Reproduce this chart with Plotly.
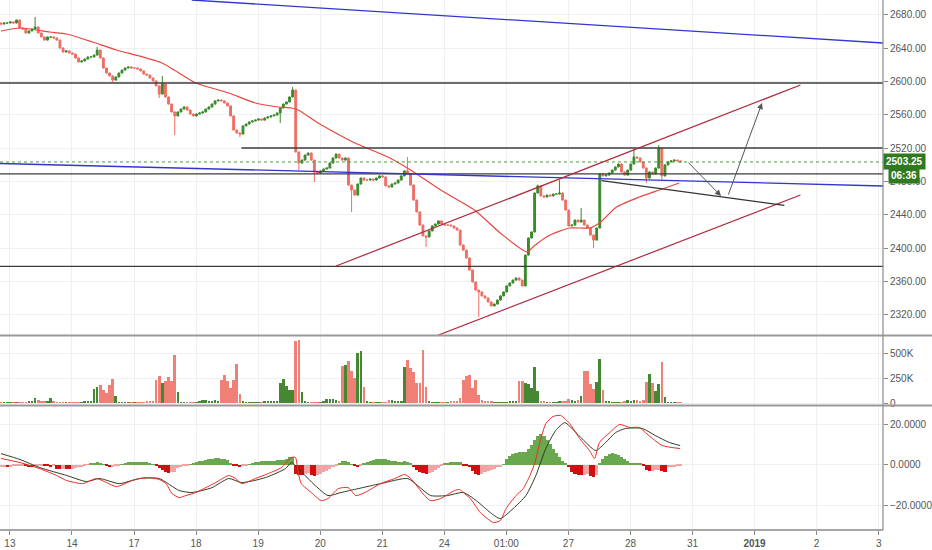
import plotly.graph_objects as go

# ---------------- data ----------------
DAY_LABELS = ["13", "14", "17", "18", "19", "20", "21", "24", "01:00", "27", "28", "31", "<b>2019</b>", "2", "3"]
BARS_PER_DAY = 20
FIRST_BAR_DAY = -0.144
X_MIN, X_MAX = -0.16, 14.07

OPEN_FIRST = 2670.0
CLOSE = [
    2668.75, 2670, 2670, 2671.25, 2670, 2673.5, 2664, 2662.75, 2658, 2660.5,
    2662.75, 2665.25, 2658, 2653.25, 2649.5, 2653.25, 2653.25, 2652, 2649.5, 2640,
    2635.25, 2636.5, 2634, 2632.75, 2628, 2623.25, 2624.5, 2626.75, 2629.25, 2629.25,
    2631.5, 2637.5, 2628, 2616, 2610, 2606.5, 2601.5, 2605.25, 2610, 2613.5,
    2616, 2617.25, 2616, 2616, 2614.75, 2612.5, 2608.75, 2607.5, 2604, 2600.5,
    2594.5, 2584.75, 2596.75, 2581.25, 2572.75, 2563.25, 2558.5, 2563.25, 2566.75, 2569.25,
    2565.5, 2560.75, 2558.5, 2560.75, 2562, 2563.25, 2566.75, 2569.25, 2572.75, 2576.5,
    2577.5, 2576.5, 2574, 2570.5, 2558.5, 2541.5, 2538, 2536.75, 2546.5, 2548.75,
    2551.25, 2552.5, 2553.5, 2554.75, 2553.5, 2556, 2557.25, 2558.5, 2559.5, 2562,
    2568, 2572.75, 2575.25, 2581.25, 2589.5, 2515.25, 2502, 2505.5, 2511.5, 2514,
    2505.5, 2491.25, 2490, 2492.5, 2494.75, 2496, 2502, 2508, 2512.75, 2508,
    2505.5, 2508, 2475.5, 2469.5, 2463.5, 2476.75, 2484, 2481.5, 2481.5, 2482.75,
    2481.5, 2484, 2486.5, 2485.25, 2474.5, 2473.25, 2476.75, 2478, 2481.5, 2486.5,
    2492.5, 2488.75, 2475.5, 2457.5, 2443.25, 2427.5, 2414.5, 2413.25, 2420.5, 2426.5,
    2428.75, 2432.5, 2428.75, 2427.5, 2427.5, 2426.5, 2424, 2421.5, 2403.5, 2397.5,
    2388, 2373.5, 2359.25, 2349.5, 2347.25, 2342.5, 2340, 2335.25, 2330.5, 2332.75,
    2337.5, 2342.5, 2347.25, 2354.5, 2358, 2361.5, 2364, 2361.5, 2354.5, 2391.5,
    2412, 2419.25, 2466, 2474.5, 2462.5, 2461.25, 2463.5, 2462.5, 2464.75, 2464.75,
    2466, 2457.5, 2445.5, 2426.5, 2427.5, 2433.5, 2431.25, 2433.5, 2427.5, 2424,
    2415.5, 2409.5, 2424, 2488.75, 2486.5, 2487.5, 2490, 2493.5, 2497.25, 2500.75,
    2491.25, 2487.5, 2493.5, 2500.75, 2509.25, 2508, 2503.25, 2496, 2484, 2491.25,
    2488.75, 2496, 2520, 2486.5, 2499.75, 2503.25, 2504.5, 2505.5, 2504.5, 2503.25,
]
HIGH_WICK = {11: 2677.25, 31: 2641.25, 52: 2606.5, 94: 2593.25, 131: 2509.25,
             173: 2476.0, 180: 2481.5, 187: 2448.0, 204: 2517.5, 212: 2523.5}
LOW_WICK = {36: 2599.25, 51: 2580.0, 56: 2535.5, 77: 2533.0, 90: 2550.0, 96: 2493.5,
            101: 2479.25, 113: 2443.25, 137: 2401.25, 154: 2317.25, 191: 2400.0,
            208: 2478.0, 213: 2481.5}
WICK_PAD = 0.5

VOLUME_K = [
    5, 5, 5, 5, 5, 6, 8, 8, 10, 12,
    20, 50, 35, 25, 20, 20, 50, 15, 10, 8,
    6, 6, 5, 5, 5, 8, 10, 12, 15, 17,
    143, 157, 183, 133, 100, 183, 243, 67, 10, 8,
    6, 5, 5, 5, 5, 8, 10, 12, 15, 20,
    233, 267, 200, 217, 257, 217, 477, 110, 10, 8,
    6, 5, 8, 10, 20, 27, 33, 15, 20, 33,
    20, 233, 283, 217, 150, 233, 390, 90, 12, 8,
    5, 5, 5, 6, 10, 20, 23, 25, 23, 20,
    200, 240, 167, 133, 133, 617, 633, 110, 20, 10,
    8, 6, 5, 10, 23, 43, 40, 43, 30, 25,
    367, 383, 423, 323, 250, 500, 517, 157, 20, 10,
    8, 5, 5, 5, 5, 33, 33, 25, 20, 15,
    357, 433, 350, 310, 200, 200, 533, 157, 20, 10,
    8, 5, 5, 5, 10, 15, 20, 25, 50, 233,
    267, 277, 150, 233, 83, 33, 20, 15, 12, 10,
    8, 8, 8, 10, 12, 12, 15, 217, 223, 200,
    190, 150, 360, 123, 15, 12, 10, 10, 8, 10,
    15, 20, 25, 43, 30, 25, 30, 67, 317, 323,
    190, 143, 207, 443, 133, 15, 12, 10, 8, 8,
    10, 15, 27, 20, 33, 33, 25, 30, 210, 290,
    200, 117, 190, 407, 60, 8, 7, 6, 6, 5,
]

MA_IDX = [0, 6.1, 15.7, 21.2, 29.5, 37.2, 44.6, 51.9, 55.8, 62.8, 73.4, 82, 89.4, 93.6, 95.8,
          102.2, 110.3, 114.1, 124.7, 132, 141.7, 152.6, 160.9, 169.6, 171.8, 176.9, 183.3,
          189.7, 192.9, 198.4, 205.8, 212.2, 218.6]
MA_VAL = [2660.4, 2664, 2659.2, 2656.8, 2647.2, 2637.6, 2630.4, 2622, 2613.6, 2598, 2586, 2574,
          2569.2, 2568, 2565.6, 2550, 2533.2, 2526, 2509.2, 2493.6, 2469.6, 2445.6, 2418, 2395.2,
          2402.4, 2415.6, 2424, 2424, 2430, 2449.2, 2461.2, 2469.6, 2478]

MACD_IDX = [0, 6.1, 12.5, 17.9, 21.2, 26.3, 30.8, 34, 37.2, 42.3, 46.8, 51, 53.2, 55.1, 57.4,
            59.6, 62.8, 66, 69.2, 73.4, 75.6, 77.6, 82, 86.2, 90.4, 93.6, 94.9, 95.8, 96.8, 100,
            103.2, 105.4, 108.7, 111.9, 114.4, 117.3, 122.4, 126.9, 130.1, 132.1, 136.5, 138.5,
            141.7, 146.2, 147.8, 149, 151.3, 154.5, 158.7, 160.9, 162.8, 166, 168.3, 170.5, 172.1,
            173.7, 175.6, 177.9, 180.4, 183.3, 186.5, 189.7, 191.3, 192.9, 196.2, 199.4, 202.6,
            205.8, 207.7, 210, 213.1, 216.3, 218.9]
MACD_VAL = [3.0, 1.0, -2.0, -5.4, -7.9, -9.4, -6.9, -8.9, -10.9, -7.9, -6.4, -7.4, -9.4, -14.3,
            -16.3, -15.3, -13.8, -11.4, -8.9, -5.4, -6.9, -9.4, -6.9, -4.4, -1.5, 3.5, 3.5, -4.0,
            -9.4, -13.8, -17.8, -16.8, -11.9, -11.4, -15.3, -13.8, -9.4, -6.9, -4.9, -6.9, -15.3,
            -17.8, -16.8, -12.8, -12.3, -13.8, -16.8, -23.7, -28.6, -27.7, -21.7, -15.3, -11.9,
            -5.4, 1.0, 10.9, 20.2, 23.7, 24.2, 20.2, 12.8, 6.9, 3.0, 10.9, 15.8, 19.8, 18.3, 18.3,
            15.8, 12.8, 9.4, 8.4, 7.9]
SIG_IDX = [0, 6.1, 12.5, 21.2, 27.6, 31.7, 38.1, 44.6, 51, 57.4, 61.5, 68, 73.4, 77.6, 85.3,
           91.7, 93.6, 95.8, 101.3, 105.4, 109.6, 115.1, 122.4, 131.1, 134.3, 138.5, 143.9, 149,
           153.2, 157.7, 160.9, 165.1, 169.2, 172.4, 175.6, 178.8, 181.7, 185.3, 188.5, 191.7,
           194.9, 198.1, 201.3, 206.7, 210.9, 215.4, 218.9]
SIG_VAL = [5.4, 2.5, -1.5, -5.4, -8.4, -6.9, -9.4, -6.9, -6.9, -12.8, -13.8, -11.4, -6.9, -8.9,
           -6.4, -2.0, 1.0, -2.0, -10.4, -15.3, -13.8, -11.9, -9.4, -6.9, -10.4, -15.3, -15.3,
           -13.8, -17.8, -23.7, -26.7, -21.7, -15.3, -5.4, 7.9, 16.8, 20.7, 15.8, 10.9, 6.9, 10.9,
           15.8, 17.8, 17.8, 14.3, 10.9, 9.4]
HIST = [
    -1.0, -1.0, -1.1, -1.0, -0.9, -0.8, -0.6, -0.5, -0.8, -1.0,
    -1.2, -0.8, -0.5, -0.3, -0.5, -0.8, -1.0, -0.8, -2.0, -2.2,
    -2.0, -2.2, -2.4, -2.0, -1.5, -1.3, -1.0, -0.6, -0.2, 0.3,
    0.8, 1.2, 0.5, 0.1, -0.8, -1.0, -1.0, -0.8, -0.3, 0.2,
    0.8, 1.2, 1.4, 1.5, 1.5, 1.5, 1.4, 1.2, 0.8, 0.2,
    -0.5, -1.5, -2.5, -3.8, -4.0, -3.9, -3.5, -1.5, -1.2, -0.8,
    -0.4, 0.2, 0.8, 1.2, 1.6, 2.0, 2.3, 2.6, 2.8, 3.0,
    3.0, 2.8, 2.6, 2.2, 1.0, -0.3, -0.8, -1.0, -0.8, -0.4,
    0.2, 0.8, 1.2, 1.5, 1.7, 1.8, 1.9, 2.0, 2.0, 2.1,
    2.2, 2.4, 2.8, 3.5, 3.8, -4.5, -5.0, -5.2, -4.5, -4.4,
    -5.0, -5.5, -5.2, -4.5, -3.8, -3.0, -2.2, -1.2, -0.3, 1.0,
    1.8, 2.0, 1.5, 0.2, -0.8, -1.0, -0.5, 0.5, 1.5, 2.0,
    2.3, 2.5, 2.5, 2.6, 2.5, 2.3, 1.8, 1.6, 1.5, 1.5,
    1.6, 1.4, 0.3, -1.0, -2.5, -3.5, -4.2, -4.5, -4.3, -3.5,
    -2.8, -1.8, -0.8, 0.4, 1.0, 1.3, 1.5, 1.5, 1.2, -0.5,
    -0.8, -1.0, -3.0, -4.5, -5.0, -4.8, -3.8, -3.0, -2.5, -2.0,
    -1.4, -1.0, 0.2, 2.5, 4.0, 5.0, 5.6, 6.0, 6.1, 6.3,
    7.5, 9.5, 12.0, 14.0, 15.3, 14.0, 12.0, 10.0, 7.5, 5.5,
    3.5, 2.0, 0.5, -1.0, -3.5, -4.5, -5.0, -5.2, -5.0, -4.8,
    -5.5, -6.0, -5.0, 0.5, 2.5, 4.0, 5.0, 5.5, 5.3, 4.5,
    3.8, 2.8, 1.8, 1.0, 0.8, 0.8, 0.5, -0.5, -2.5, -3.0,
    -3.0, -2.8, -2.5, -3.2, -3.5, -1.0, -1.0, -1.0, -0.9, -0.8,
]

LAST_PRICE = 2503.25
COUNTDOWN = "06:36"
COUNTDOWN_Y = 2486.5
LEVELS_FULL = [2598.0, 2489.0, 2378.0]
LEVEL_PARTIAL = {"start_day": 3.73, "price": 2520.0}
BLUE_LINES = [((2.93, 2697.6), (14.07, 2646.0)), ((-0.16, 2501.4), (14.07, 2474.4))]
CHANNEL_LINES = [((5.256, 2378.4), (12.74, 2595.6)), ((6.907, 2295.6), (12.74, 2463.6))]
TREND_LINE = ((9.535, 2480.8), (12.48, 2451.2))
ARROWS = [((10.91, 2504.4), (11.46, 2462.4)), ((11.57, 2462.4), (12.12, 2574.0))]

PRICE_TICKS = [2320, 2360, 2400, 2440, 2480, 2520, 2560, 2600, 2640, 2680]
VOL_TICKS = [0, 250, 500]
VOL_TICKTEXT = ["0", "250K", "500K"]
MACD_TICKS = [-20, 0, 20]

# ---------------- styles ----------------
UP, DOWN = "#3a8a2a", "#ef6d64"
VOL_UP, VOL_DOWN = "#468832", "#f07f76"
GRID = "#eef0f3"
FONT = "Liberation Sans, Arial, sans-serif"
TICKFONT = dict(family=FONT, size=10, color="#555555")

n = len(CLOSE)
bar_day = [FIRST_BAR_DAY + i / BARS_PER_DAY for i in range(n)]
opens = [OPEN_FIRST] + CLOSE[:-1]
highs = [HIGH_WICK.get(i, max(o, c) + WICK_PAD) for i, (o, c) in enumerate(zip(opens, CLOSE))]
lows = [LOW_WICK.get(i, min(o, c) - WICK_PAD) for i, (o, c) in enumerate(zip(opens, CLOSE))]
is_up = [c >= o for o, c in zip(opens, CLOSE)]


def idx_to_day(idx_list):
    return [FIRST_BAR_DAY + v / BARS_PER_DAY for v in idx_list]


fig = go.Figure()
fig.add_trace(go.Candlestick(
    x=bar_day, open=opens, high=highs, low=lows, close=CLOSE,
    increasing=dict(line=dict(color=UP, width=1), fillcolor=UP),
    decreasing=dict(line=dict(color=DOWN, width=1), fillcolor=DOWN),
    whiskerwidth=0, hoverinfo="skip", showlegend=False, xaxis="x", yaxis="y"))
fig.add_trace(go.Scatter(x=idx_to_day(MA_IDX), y=MA_VAL, mode="lines",
                         line=dict(color="#e8453c", width=1.2, shape="spline", smoothing=0.6),
                         hoverinfo="skip", showlegend=False, xaxis="x", yaxis="y"))

fig.add_trace(go.Bar(x=bar_day, y=VOLUME_K, width=0.042,
                     marker=dict(color=[VOL_UP if u else VOL_DOWN for u in is_up], line=dict(width=0)),
                     hoverinfo="skip", showlegend=False, xaxis="x2", yaxis="y2"))

hist_colors = []
for i, h in enumerate(HIST):
    if h >= 0:
        hist_colors.append("#6aa84f")
    elif i > 0 and h < HIST[i - 1]:
        hist_colors.append("#d01010")
    else:
        hist_colors.append("#f2a4a4")
fig.add_trace(go.Bar(x=bar_day, y=HIST, width=0.05,
                     marker=dict(color=hist_colors, line=dict(width=0)),
                     hoverinfo="skip", showlegend=False, xaxis="x3", yaxis="y3"))
fig.add_trace(go.Scatter(x=idx_to_day(SIG_IDX), y=SIG_VAL, mode="lines",
                         line=dict(color="#2f3d22", width=1, shape="spline", smoothing=0.6),
                         hoverinfo="skip", showlegend=False, xaxis="x3", yaxis="y3"))
fig.add_trace(go.Scatter(x=idx_to_day(MACD_IDX), y=MACD_VAL, mode="lines",
                         line=dict(color="#ee2a24", width=1, shape="spline", smoothing=0.6),
                         hoverinfo="skip", showlegend=False, xaxis="x3", yaxis="y3"))

shapes = []
for lv in LEVELS_FULL:
    shapes.append(dict(type="line", xref="x", yref="y", x0=X_MIN, x1=X_MAX, y0=lv, y1=lv,
                       line=dict(color="#3c3c3c", width=1.3)))
shapes.append(dict(type="line", xref="x", yref="y", x0=LEVEL_PARTIAL["start_day"], x1=X_MAX,
                   y0=LEVEL_PARTIAL["price"], y1=LEVEL_PARTIAL["price"],
                   line=dict(color="#3c3c3c", width=1.3)))
shapes.append(dict(type="line", xref="x", yref="y", x0=X_MIN, x1=X_MAX, y0=LAST_PRICE, y1=LAST_PRICE,
                   line=dict(color="#4c9a3a", width=1, dash="dot")))
for (a, b) in BLUE_LINES:
    shapes.append(dict(type="line", xref="x", yref="y", x0=a[0], y0=a[1], x1=b[0], y1=b[1],
                       line=dict(color="#3434d0", width=1.3)))
for (a, b) in CHANNEL_LINES:
    shapes.append(dict(type="line", xref="x", yref="y", x0=a[0], y0=a[1], x1=b[0], y1=b[1],
                       line=dict(color="#b0283c", width=1.2)))
shapes.append(dict(type="line", xref="x", yref="y", x0=TREND_LINE[0][0], y0=TREND_LINE[0][1],
                   x1=TREND_LINE[1][0], y1=TREND_LINE[1][1], line=dict(color="#333333", width=1.2)))

# pane separators & frame (paper coords)
H_PLOT = 530.0
def py(px):
    return 1 - px / H_PLOT
for sep in (335.5, 405.5):
    shapes.append(dict(type="line", xref="paper", yref="paper", x0=0, x1=1.06, y0=py(sep), y1=py(sep),
                       line=dict(color="#9a9a9a", width=2)))
shapes.append(dict(type="line", xref="paper", yref="paper", x0=1, x1=1, y0=0, y1=1,
                   line=dict(color="#8a8a8a", width=1.2)))
shapes.append(dict(type="line", xref="paper", yref="paper", x0=0, x1=1, y0=0, y1=0,
                   line=dict(color="#8a8a8a", width=1.5)))

annotations = []
for (a, b) in ARROWS:
    annotations.append(dict(x=b[0], y=b[1], ax=a[0], ay=a[1], xref="x", yref="y", axref="x", ayref="y",
                            text="", showarrow=True, arrowhead=2, arrowsize=1.2, arrowwidth=1,
                            arrowcolor="#555555"))
annotations.append(dict(x=1, y=LAST_PRICE, xref="paper", yref="y", xanchor="left", yanchor="middle",
                        text=f"<b>{LAST_PRICE:.2f}</b>", showarrow=False, bgcolor="#2f7a1f",
                        font=dict(family=FONT, size=10, color="white"), borderpad=2, xshift=0))
annotations.append(dict(x=1, y=COUNTDOWN_Y, xref="paper", yref="y", xanchor="left", yanchor="middle",
                        text=f"<b>{COUNTDOWN}</b>", showarrow=False, bgcolor="#2f7a1f",
                        font=dict(family=FONT, size=10, color="white"), borderpad=2, xshift=5))

xcommon = dict(range=[X_MIN, X_MAX], showgrid=True, gridcolor=GRID, gridwidth=1,
               tickvals=list(range(len(DAY_LABELS))), ticktext=DAY_LABELS,
               zeroline=False, showline=False, fixedrange=True)

fig.update_layout(
    width=932, height=550,
    margin=dict(l=0, r=44, t=0, b=20),
    paper_bgcolor="white", plot_bgcolor="white",
    font=dict(family=FONT, size=10, color="#555555"),
    showlegend=False, bargap=0, boxgap=0.15,
    xaxis=dict(**xcommon, domain=[0, 1], anchor="y", showticklabels=False,
               rangeslider=dict(visible=False)),
    xaxis2=dict(**xcommon, domain=[0, 1], anchor="y2", matches="x", showticklabels=False),
    xaxis3=dict(**xcommon, domain=[0, 1], anchor="y3", matches="x", showticklabels=True,
                ticks="outside", ticklen=4, tickcolor="#888", tickfont=dict(family=FONT, size=10, color="#555")),
    yaxis=dict(domain=[py(335), 1], range=[2295.6, 2697.6], side="right", anchor="x",
               tickvals=PRICE_TICKS, tickformat=".2f", gridcolor=GRID, zeroline=False,
               ticks="outside", ticklen=4, tickcolor="#888", tickfont=TICKFONT, fixedrange=True),
    yaxis2=dict(domain=[py(405), py(337)], range=[-20, 660], side="right", anchor="x2",
                tickvals=VOL_TICKS, ticktext=VOL_TICKTEXT, gridcolor=GRID, zeroline=False,
                ticks="outside", ticklen=4, tickcolor="#888", tickfont=TICKFONT, fixedrange=True),
    yaxis3=dict(domain=[0, py(407)], range=[-32.3, 28.4], side="right", anchor="x3",
                tickvals=MACD_TICKS, tickformat=".4f", gridcolor=GRID, zeroline=False,
                ticks="outside", ticklen=4, tickcolor="#888", tickfont=TICKFONT, fixedrange=True),
    shapes=shapes, annotations=annotations,
)

fig.write_html("out.html", config={"displayModeBar": False},
               post_script="document.body.style.margin='0';document.body.style.overflow='hidden';")
